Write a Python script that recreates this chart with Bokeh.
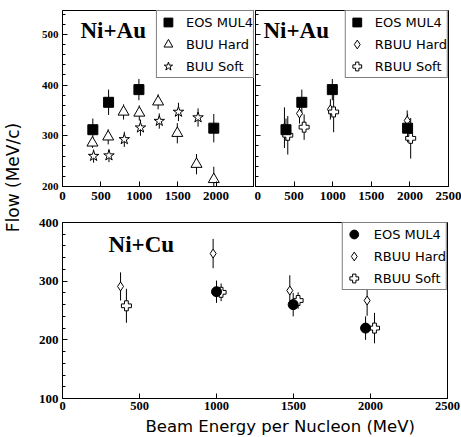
from math import pi
import numpy as np
from bokeh.plotting import figure
from bokeh.models import Range1d, FixedTicker, Label, Legend, LegendItem
from bokeh.layouts import row, column
from bokeh.embed import file_html
from bokeh.resources import INLINE

# ---------------- data ----------------
energy_ticks_top = [0, 500, 1000, 1500, 2000]
energy_ticks = [0, 500, 1000, 1500, 2000, 2500]
au_flow_ticks = [200, 300, 400, 500]
au_flow_minor = list(range(200, 560, 20))
cu_flow_ticks = [100, 200, 300, 400]
cu_flow_minor = list(range(100, 420, 20))

au_eos_energy = [395, 600, 995, 1970]
au_eos_flow = [312, 366, 391, 315]
au_eos_err = [22, 25, 21, 28]

au_buu_hard_energy = [390, 595, 795, 1000, 1245, 1495, 1745, 1970]
au_buu_hard_flow = [286, 298, 347, 345, 367, 305, 244, 214]
au_buu_hard_err = [10, 15, 15, 15, 15, 20, 20, 25]

au_buu_soft_energy = [405, 605, 805, 1015, 1260, 1510, 1765]
au_buu_soft_flow = [260, 261, 293, 316, 329, 347, 336]
au_buu_soft_err = [13, 13, 15, 16, 15, 18, 18]

au_rbuu_hard_energy = [375, 570, 970, 1965]
au_rbuu_hard_flow = [316, 344, 352, 330]
au_rbuu_hard_err = [40, 20, 20, 20]

au_rbuu_soft_energy = [418, 630, 1012, 2010]
au_rbuu_soft_flow = [301, 317, 347, 295]
au_rbuu_soft_err = [38, 25, 40, 40]

cu_eos_energy = [1000, 1498, 1968]
cu_eos_flow = [282, 260, 220]
cu_eos_err = [19, 20, 20]

cu_rbuu_hard_energy = [377, 978, 1476, 1978]
cu_rbuu_hard_flow = [291, 347, 284, 267]
cu_rbuu_hard_err = [24, 25, 26, 26]

cu_rbuu_soft_energy = [415, 1030, 1530, 2026]
cu_rbuu_soft_flow = [258, 281, 267, 220]
cu_rbuu_soft_err = [29, 15, 14, 26]

SERIF = "Liberation Serif"
SANS = "DejaVu Sans"


def make_fig(width, height, yr, l, r, t, b):
    p = figure(width=width, height=height, x_range=Range1d(0, 2500), y_range=Range1d(*yr),
               toolbar_location=None, output_backend="svg",
               min_border_left=l, min_border_right=r, min_border_top=t, min_border_bottom=b)
    p.grid.visible = False
    p.outline_line_color = "black"
    p.outline_line_width = 1
    p.background_fill_color = "white"
    p.border_fill_color = "white"
    return p


def style_axes(p, xticks, yticks, yminor, xfs, yfs, ylabels=True, xstand=5):
    xa = p.xaxis[0]
    ya = p.yaxis[0]
    xa.ticker = FixedTicker(ticks=xticks)
    ya.ticker = FixedTicker(ticks=yticks, minor_ticks=yminor)
    for ax, fs in ((xa, xfs), (ya, yfs)):
        ax.axis_line_color = "black"
        ax.major_tick_line_color = "black"
        ax.minor_tick_line_color = "black"
        ax.major_tick_in = 5
        ax.major_tick_out = 0
        ax.minor_tick_in = 3
        ax.minor_tick_out = 0
        ax.major_label_text_font = SERIF
        ax.major_label_text_font_style = "bold"
        ax.major_label_text_font_size = fs
        ax.major_label_text_color = "black"
    xa.minor_tick_line_color = None
    xa.major_label_standoff = xstand
    ya.major_label_standoff = 4
    if not ylabels:
        ya.major_label_overrides = {v: "" for v in yticks}
        ya.major_label_text_font_size = "1px"
        ya.major_label_standoff = 0


def errbars(p, x, y, e):
    y = np.asarray(y, float)
    e = np.asarray(e, float)
    p.segment(x0=x, y0=y - e, x1=x, y1=y + e, line_color="black", line_width=1)


def pts(p, x, y, marker, size, fill):
    return p.scatter(x, y, marker=marker, size=size, fill_color=fill,
                     line_color="black", line_width=1)


def add_legend(p, items, standoff):
    lg = Legend(items=[LegendItem(label=t, renderers=[r]) for t, r in items],
                location="top_right", margin=0, padding=0, spacing=-7,
                glyph_width=22, glyph_height=22, label_height=22, label_standoff=standoff,
                label_text_font=SANS, label_text_font_size="13px",
                label_text_color="black",
                border_line_color="black", border_line_width=1,
                background_fill_color="white", background_fill_alpha=1)
    p.add_layout(lg)


def title(p, x, y, text):
    p.add_layout(Label(x=x, y=y, text=text, text_font=SERIF, text_font_style="bold",
                       text_font_size="23px", text_color="black",
                       text_baseline="alphabetic", text_align="left"))


# ---------------- top left: Ni+Au, BUU ----------------
tl = make_fig(221, 204, (200, 547), 29, 0, 10, 18)
style_axes(tl, energy_ticks_top, au_flow_ticks, au_flow_minor, "13px", "11px")
errbars(tl, au_buu_hard_energy, au_buu_hard_flow, au_buu_hard_err)
errbars(tl, au_buu_soft_energy, au_buu_soft_flow, au_buu_soft_err)
errbars(tl, au_eos_energy, au_eos_flow, au_eos_err)
r_bh = pts(tl, au_buu_hard_energy, au_buu_hard_flow, "triangle", 11, "white")
r_bs = pts(tl, au_buu_soft_energy, au_buu_soft_flow, "star", 11, "white")
r_eos1 = pts(tl, au_eos_energy, au_eos_flow, "square", 10, "black")
add_legend(tl, [("EOS MUL4", r_eos1), ("BUU Hard", r_bh), ("BUU Soft", r_bs)], 7)
title(tl, 234, 508, "Ni+Au")

# ---------------- top right: Ni+Au, RBUU ----------------
tr = make_fig(207, 204, (200, 547), 1, 13, 10, 18)
style_axes(tr, energy_ticks, au_flow_ticks, au_flow_minor, "13px", "11px", ylabels=False)
errbars(tr, au_rbuu_hard_energy, au_rbuu_hard_flow, au_rbuu_hard_err)
errbars(tr, au_rbuu_soft_energy, au_rbuu_soft_flow, au_rbuu_soft_err)
errbars(tr, au_eos_energy, au_eos_flow, au_eos_err)
r_rh = pts(tr, au_rbuu_hard_energy, au_rbuu_hard_flow, "diamond", 9, "white")
r_rs = pts(tr, au_rbuu_soft_energy, au_rbuu_soft_flow, "plus", 10, "white")
r_eos2 = pts(tr, au_eos_energy, au_eos_flow, "square", 10, "black")
add_legend(tr, [("EOS MUL4", r_eos2), ("RBUU Hard", r_rh), ("RBUU Soft", r_rs)], 7)
title(tr, 103, 508, "Ni+Au")

# ---------------- bottom: Ni+Cu ----------------
bt = make_fig(428, 212, (100, 400), 29, 14, 18, 18)
style_axes(bt, energy_ticks, cu_flow_ticks, cu_flow_minor, "12.5px", "13px", xstand=3)
errbars(bt, cu_rbuu_hard_energy, cu_rbuu_hard_flow, cu_rbuu_hard_err)
errbars(bt, cu_rbuu_soft_energy, cu_rbuu_soft_flow, cu_rbuu_soft_err)
errbars(bt, cu_eos_energy, cu_eos_flow, cu_eos_err)
r_ch = pts(bt, cu_rbuu_hard_energy, cu_rbuu_hard_flow, "diamond", 9, "white")
r_cs = pts(bt, cu_rbuu_soft_energy, cu_rbuu_soft_flow, "plus", 10, "white")
r_ce = pts(bt, cu_eos_energy, cu_eos_flow, "circle", 10, "black")
add_legend(bt, [("EOS MUL4", r_ce), ("RBUU Hard", r_ch), ("RBUU Soft", r_cs)], 9)
title(bt, 299, 363, "Ni+Cu")


def text_strip(width, height):
    f = figure(width=width, height=height, x_range=Range1d(0, width), y_range=Range1d(0, height),
               toolbar_location=None, output_backend="svg", x_axis_type=None, y_axis_type=None,
               min_border=0)
    f.grid.visible = False
    f.outline_line_color = None
    f.background_fill_color = "white"
    f.border_fill_color = "white"
    return f


# ---------------- shared x label ----------------
xf = text_strip(428, 21)
xf.add_layout(Label(x=242, y=11, text="Beam Energy per Nucleon (MeV)", text_font=SANS,
                    text_font_size="16.5px", text_color="black",
                    text_align="center", text_baseline="middle"))

# ---------------- shared y label ----------------
lf = text_strip(33, 437)
lf.add_layout(Label(x=12, y=260, text="Flow (MeV/c)", angle=pi / 2, text_font=SANS,
                    text_font_size="17px", text_color="black",
                    text_align="center", text_baseline="middle"))

page = row(lf, column(row(tl, tr), bt, xf))
open("out.html", "w").write(file_html(page, INLINE))
